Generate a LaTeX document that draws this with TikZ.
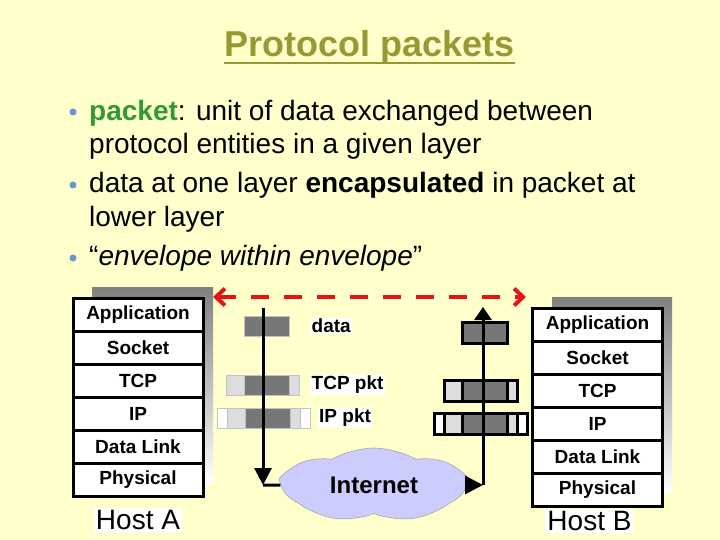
\documentclass[tikz,border=0pt]{standalone}
\usepackage{fontspec}
\setmainfont{Liberation Sans}
\usetikzlibrary{positioning,arrows.meta,shapes.symbols}
\definecolor{slide}{RGB}{255,255,204}
\definecolor{olivetitle}{RGB}{153,153,51}
\definecolor{pktgreen}{RGB}{51,153,51}
\definecolor{dotblue}{RGB}{102,153,204}
\definecolor{netblue}{RGB}{204,204,255}
\definecolor{darkseg}{RGB}{119,119,119}
\definecolor{lightseg}{RGB}{221,221,221}
\definecolor{shade}{RGB}{170,170,170}
\definecolor{peerred}{RGB}{230,20,20}
\tikzset{layer box/.style={rectangle, draw, line width=3pt, fill=white, minimum width=130pt, minimum height=33pt, outer sep=0pt, inner sep=0pt, font=\fontsize{19}{21}\selectfont\bfseries},
  host/.style={fill=white, inner sep=2pt, font=\fontsize{28}{30}\selectfont},
  seg/.style={rectangle, inner sep=0pt, outer sep=0pt, minimum height=20pt},
  faint/.style={seg, draw=shade!70, line width=0.6pt},
  boxed/.style={seg, draw=black, line width=3pt, minimum height=21pt},
  dk/.style={fill=darkseg, minimum width=45pt},
  lt/.style={fill=lightseg, minimum width=18pt},
  tl/.style={fill=lightseg, minimum width=10pt},
  wt/.style={fill=white, minimum width=10pt},
  pkt label/.style={fill=white, inner sep=1.5pt, font=\fontsize{19}{21}\selectfont\bfseries},
  bullet text/.style={anchor=base west, inner sep=0pt, font=\fontsize{28}{32}\selectfont},
  bullet dot/.style={circle, fill=dotblue, inner sep=0pt, minimum size=7pt},
  net cloud/.style={cloud, cloud puffs=7, cloud puff arc=60, aspect=2.5, fill=netblue, draw=gray!70, line width=0.6pt, minimum width=182pt, minimum height=74pt, inner sep=0pt, font=\fontsize{24}{26}\selectfont\bfseries},
}

\begin{document}
\begin{tikzpicture}[x=1pt, y=-1pt]
        % Slide
        \fill[slide] (0,0) rectangle (720,540);
        \useasboundingbox (0,0) rectangle (720,540);
        \node[anchor=base, inner sep=0pt, text=olivetitle, font=\fontsize{36}{40}\selectfont\bfseries] (title) at (369.5,57) {Protocol packets};
        \draw[olivetitle, line width=2.5pt] ([yshift=-6pt]title.base west) -- ([yshift=-6pt]title.base east);
        % Bullets
        \node[bullet dot] (i1) at (73,112) {};
        \node[bullet dot] (i2) at (73,185) {};
        \node[bullet dot] (i3) at (73,258) {};
        \node[bullet text] (t1) at (89,121) {\textcolor{pktgreen}{\bfseries packet}: unit of data exchanged between};
        \node[bullet text] (t2) at (89,154) {protocol entities in a given layer};
        \node[bullet text] (t3) at (89,193) {data at one layer \textbf{encapsulated} in packet at};
        \node[bullet text] (t4) at (89,226) {lower layer};
        \node[bullet text] (t5) at (89,265) {“\textit{envelope within envelope}”};
        % Shadows
        \fill[shade] (92,287) rectangle (213,484);
        \fill[shade] (552,297) rectangle (672,493);
        % Host A
        \node[layer box] (a1) at (138,314.5) {Application};
        \node[layer box] [below = 0pt of a1] (a2) {Socket};
        \node[layer box] [below = 0pt of a2] (a3) {TCP};
        \node[layer box] [below = 0pt of a3] (a4) {IP};
        \node[layer box] [below = 0pt of a4] (a5) {Data Link};
        \node[layer box] [below = 0pt of a5] (a6) {Physical};
        \node[host] [below = 12pt of a6] (hA) {Host A};
        % Host B
        \node[layer box] (b1) at (597.5,324.5) {Application};
        \node[layer box] [below = 0pt of b1] (b2) {Socket};
        \node[layer box] [below = 0pt of b2] (b3) {TCP};
        \node[layer box] [below = 0pt of b3] (b4) {IP};
        \node[layer box] [below = 0pt of b4] (b5) {Data Link};
        \node[layer box] [below = 0pt of b5] (b6) {Physical};
        \node[host] [below = 3pt of b6, xshift=-8pt] (hB) {Host B};
        % Packets going down
        \node[faint, dk] (dA) at (266.5,326) {};
        \node[faint, dk] (tA) at (266.5,385) {};
        \node[faint, lt] [left = 0pt of tA] (thA) {};
        \node[faint, tl] [right = 0pt of tA] (ttA) {};
        \node[faint, dk] (iA) at (268,418) {};
        \node[faint, lt] [left = 0pt of iA] (ihA) {};
        \node[faint, wt] [left = 0pt of ihA] (ihhA) {};
        \node[faint, tl] [right = 0pt of iA] (itA) {};
        \node[faint, wt] [right = 0pt of itA] (ittA) {};
        \node[pkt label] [right = 21pt of dA] (dL) {data};
        \node[pkt label] [right = 11pt of ttA] (tL) {TCP pkt};
        \node[pkt label] [right = 7pt of ittA] (iL) {IP pkt};
        % Packets going up
        \node[boxed, dk] (dB) at (485,332.5) {};
        \node[boxed, dk] (tB) at (485,391) {};
        \node[boxed, lt] [left = 0pt of tB] (thB) {};
        \node[boxed, tl] [right = 0pt of tB] (ttB) {};
        \node[boxed, dk] (iB) at (485,423.5) {};
        \node[boxed, lt] [left = 0pt of iB] (ihB) {};
        \node[boxed, wt] [left = 0pt of ihB] (ihhB) {};
        \node[boxed, tl] [right = 0pt of iB] (itB) {};
        \node[boxed, wt] [right = 0pt of itB] (ittB) {};
        % Network
        \node[net cloud] (net) at (374,485) {Internet};
        \coordinate (dn) at (263,308);
        \coordinate (dc) at (263,485);
        \coordinate (uc) at (483,485);
        \coordinate (up) at (483,307);
        \coordinate (pA) at (213,297);
        \coordinate (pB) at (526,297);
        % Paths
        \path[draw, line width=3pt]
        (dn) edge [-{Triangle[length=17pt,width=17pt]}] (dc)
        (dc) edge (net)
        (net) edge [-{Triangle[length=18pt,width=18pt]}] (uc)
        (uc) edge [-{Triangle[length=13pt,width=17pt]}] (up);
        \path[draw, peerred, line width=4pt, dash pattern=on 18pt off 15pt]
        (pA) edge [{Straight Barb[length=9pt,width=17pt]}-{Straight Barb[length=9pt,width=17pt]}] (pB);
    \end{tikzpicture}
\end{document}
